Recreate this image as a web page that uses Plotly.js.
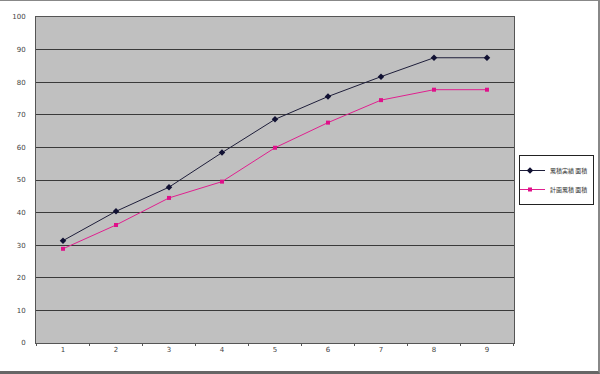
<!DOCTYPE html>
<html>
<head>
<meta charset="utf-8">
<script src="https://cdn.plot.ly/plotly-3.0.1.min.js"></script>
<style>
html,body{margin:0;padding:0;background:#fff;}
#chart{position:absolute;left:0;top:0;width:600px;height:374px;}
#frame{position:absolute;left:0;top:0;width:600px;height:374px;box-sizing:border-box;border-top:1px solid #888;border-right:2px solid #888;border-bottom:3px solid #666;pointer-events:none;}
</style>
</head>
<body>
<div id="chart"></div>
<div id="frame"></div>
<script>
const categories = ['1','2','3','4','5','6','7','8','9'];
const seriesNames = ['累積実績 面積', '計画累積 面積'];
const actual = [31.4, 40.4, 47.8, 58.4, 68.6, 75.6, 81.7, 87.5, 87.5];
const plan = [28.9, 36.2, 44.5, 49.5, 59.9, 67.6, 74.5, 77.7, 77.7];
const yTicks = [0,10,20,30,40,50,60,70,80,90,100];

const traces = [
  {x: categories, y: actual, name: seriesNames[0], type: 'scatter', mode: 'lines+markers',
   line: {color: '#1e1e3a', width: 1}, marker: {symbol: 'diamond', size: 5, color: '#111133'}},
  {x: categories, y: plan, name: seriesNames[1], type: 'scatter', mode: 'lines+markers',
   line: {color: '#e0208f', width: 1}, marker: {symbol: 'square', size: 4, color: '#e0108a'}}
];

const layout = {
  width: 600, height: 374,
  margin: {l: 36, r: 86, t: 17, b: 31, autoexpand: false},
  paper_bgcolor: '#ffffff',
  plot_bgcolor: '#c0c0c0',
  showlegend: true,
  legend: {x: 1.0105, y: 0.5, xanchor: 'left', yanchor: 'middle',
    bordercolor: '#222', borderwidth: 1, bgcolor: '#fff', indentation: -10,
    font: {family: 'Noto Sans CJK JP', size: 6, color: '#333'},
    tracegroupgap: 0, itemwidth: 30},
  xaxis: {type: 'category', tickson: 'boundaries', ticks: 'outside', ticklen: 2,
    tickcolor: '#555', showgrid: false, showline: true, linecolor: '#555', mirror: true,
    tickfont: {family: 'DejaVu Sans', size: 7, color: '#444'}, zeroline: false},
  yaxis: {range: [0, 100], tickvals: yTicks, ticktext: yTicks.map(String), showgrid: true,
    gridcolor: '#3a3a3a', gridwidth: 1, showline: true, linecolor: '#555', mirror: true,
    ticks: '', ticklabelstandoff: 8, zeroline: false,
    tickfont: {family: 'DejaVu Sans', size: 7, color: '#444'}}
};

Plotly.newPlot('chart', traces, layout, {staticPlot: true, displayModeBar: false});
</script>
</body>
</html>
